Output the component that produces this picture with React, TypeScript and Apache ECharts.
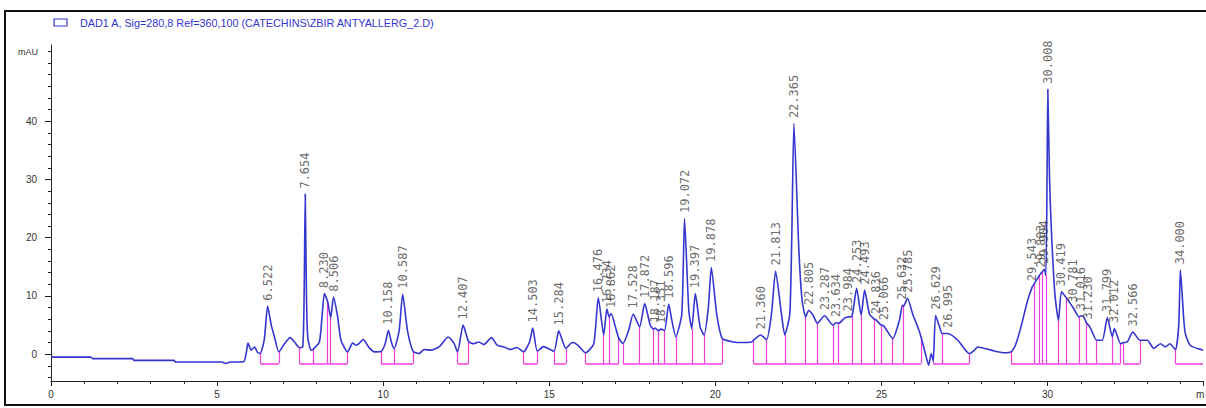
import React, { useEffect, useRef } from "react";
import * as echarts from "echarts";

// Chromatogram trace: [retention time (min), signal (mAU)]
const trace: number[][] = [
  [0, -0.5], [1.2, -0.5], [1.25, -0.75], [2.45, -0.75], [2.5, -1.05], [3.7, -1.05], [3.75, -1.35],
  [5.15, -1.35], [5.25, -1.6], [5.4, -1.35], [5.8, -1.3], [5.88, 0.3], [5.93, 1.9], [6.03, 0.7],
  [6.13, 1.25], [6.22, 0.3], [6.3, 0.15], [6.42, 2.5], [6.522, 8.25], [6.63, 5.0], [6.73, 2.9],
  [6.86, 0.4], [7.03, 1.8], [7.2, 2.85], [7.33, 2.1], [7.48, 1.1], [7.58, 1.3], [7.62, 10],
  [7.654, 27.5], [7.69, 10], [7.73, 2.9], [7.83, 0.7], [7.9, 0.9], [8.08, 2.1], [8.16, 6.5],
  [8.23, 10.4], [8.33, 9.0], [8.42, 6.3], [8.506, 9.8], [8.63, 6.4], [8.73, 2.4], [8.93, 0.4],
  [9.08, 1.9], [9.2, 1.55], [9.4, 2.5], [9.56, 1.25], [9.73, 0.4], [9.93, 0.45], [10.06, 1.8],
  [10.158, 4.1], [10.25, 2.0], [10.33, 0.95], [10.48, 4.0], [10.587, 10.3], [10.73, 4.1],
  [10.9, 0.5], [11.08, 0.1], [11.23, 0.8], [11.43, 0.7], [11.68, 1.25], [11.96, 2.95],
  [12.13, 1.9], [12.24, 0.4], [12.407, 5.0], [12.57, 2.2], [12.73, 1.8], [12.88, 2.1],
  [13.03, 1.65], [13.26, 2.85], [13.43, 1.55], [13.63, 1.25], [13.83, 0.8], [14.03, 1.15],
  [14.22, 0.4], [14.4, 2.0], [14.503, 4.5], [14.64, 0.5], [14.83, 1.3], [15.14, 0.5],
  [15.284, 4.0], [15.5, 1.0], [15.69, 2.0], [15.85, 1.6], [16.09, 0.25], [16.34, 1.8],
  [16.476, 9.7], [16.64, 3.3], [16.734, 7.8], [16.8, 6.4], [16.862, 7.0], [16.99, 4.7],
  [17.09, 2.8], [17.22, 1.85], [17.39, 4.1], [17.528, 6.9], [17.72, 4.7], [17.872, 8.7],
  [18.04, 5.0], [18.14, 4.3], [18.187, 4.5], [18.29, 4.0], [18.351, 4.3], [18.47, 4.1],
  [18.596, 8.6], [18.69, 5.8], [18.81, 3.0], [18.99, 6.9], [19.072, 23.3], [19.2, 7.5],
  [19.29, 4.4], [19.397, 10.4], [19.54, 4.7], [19.66, 3.3], [19.79, 8.1], [19.878, 14.9],
  [20.04, 6.9], [20.21, 2.7], [20.54, 2.1], [20.79, 2.0], [21.09, 2.1], [21.15, 2.4],
  [21.36, 3.3], [21.54, 2.5], [21.69, 6.9], [21.813, 14.3], [21.99, 6.9], [22.09, 3.3],
  [22.24, 6.9], [22.3, 20], [22.365, 39.6], [22.51, 18.4], [22.61, 9.3], [22.72, 6.4],
  [22.805, 7.5], [22.94, 6.7], [23.07, 5.3], [23.287, 6.6], [23.54, 5.0], [23.634, 5.4],
  [23.71, 5.3], [23.89, 6.2], [23.984, 6.4], [24.11, 6.5], [24.253, 11.3], [24.39, 6.7],
  [24.493, 11.0], [24.64, 6.9], [24.79, 6.0], [24.836, 5.9], [24.99, 5.0], [25.066, 4.9],
  [25.34, 2.7], [25.54, 5.8], [25.632, 8.4], [25.67, 8.3], [25.785, 9.6], [25.94, 6.9],
  [26.09, 4.7], [26.19, 3.0], [26.35, -0.5], [26.42, -1.9], [26.5, 0.1], [26.56, -1.2],
  [26.629, 6.7], [26.75, 4.7], [26.83, 3.55], [26.995, 3.55], [27.3, 2.4], [27.65, 0.1],
  [27.8, 0.7], [27.9, 1.25], [28.3, 0.7], [28.7, 0.25], [28.9, 0.4], [29.05, 1.8], [29.2, 4.7],
  [29.4, 9.2], [29.543, 11.6], [29.6, 12.1], [29.75, 13.5], [29.803, 13.9], [29.85, 14.2],
  [29.904, 14.6], [29.95, 13.5], [29.985, 30], [30.008, 45.5], [30.06, 30], [30.12, 20.7],
  [30.22, 10.4], [30.33, 5.8], [30.419, 10.7], [30.55, 9.8], [30.781, 7.9], [30.95, 6.4],
  [31.016, 6.6], [31.08, 6.5], [31.18, 5.3], [31.23, 5.0], [31.3, 4.4], [31.48, 2.4],
  [31.65, 2.4], [31.799, 6.3], [31.95, 3.0], [32.012, 4.4], [32.2, 1.8], [32.28, 2.0],
  [32.4, 2.1], [32.566, 3.8], [32.78, 2.4], [33.0, 2.4], [33.2, 1.0], [33.4, 1.8],
  [33.55, 1.25], [33.68, 1.8], [33.85, 0.8], [33.95, 5], [34.0, 14.5], [34.1, 6],
  [34.15, 3.5], [34.3, 1.5], [34.68, 0.7],
];

// Peak retention-time labels (apex)
const peakLabels: string[] = [
  "6.522", "7.654", "8.230", "8.506", "10.158", "10.587", "12.407", "14.503", "15.284",
  "16.476", "16.734", "16.862", "17.528", "17.872", "18.187", "18.351", "18.596", "19.072",
  "19.397", "19.878", "21.360", "21.813", "22.365", "22.805", "23.287", "23.634", "23.984",
  "24.253", "24.493", "24.836", "25.066", "25.632", "25.785", "26.629", "26.995", "29.543",
  "29.803", "29.904", "30.008", "30.419", "30.781", "31.016", "31.230", "31.799", "32.012",
  "32.566", "34.000",
];

// Integration baseline level (mAU) and segments [start, end] (min)
const baselineLevel: number[] = [-1.6];
const baselineSegments: number[][] = [
  [6.3, 6.86], [7.48, 8.93], [9.93, 10.9], [12.24, 12.57], [14.22, 14.64], [15.14, 15.5],
  [16.09, 17.09], [17.22, 20.21], [21.15, 26.19], [26.56, 27.65], [28.9, 32.2],
  [32.28, 32.78], [33.85, 34.68],
];
// Peak-boundary drop lines (min)
const dropTimes: number[] = [
  6.3, 6.86, 7.48, 7.9, 8.33, 8.42, 8.93, 9.93, 10.33, 10.9, 12.24, 12.57, 14.22, 14.64,
  15.14, 15.5, 16.09, 16.64, 16.8, 17.09, 17.22, 17.72, 18.14, 18.29, 18.47, 18.81, 19.29,
  19.66, 20.21, 21.15, 21.54, 22.09, 22.72, 23.07, 23.54, 23.71, 24.11, 24.39, 24.79, 24.99,
  25.34, 25.67, 26.19, 26.56, 26.83, 27.65, 28.9, 29.6, 29.75, 29.85, 29.95, 30.33, 30.55,
  30.95, 31.18, 31.48, 31.95, 32.2, 32.28, 32.78, 33.85,
];

const xTickLabels: number[] = [0, 5, 10, 15, 20, 25, 30];
const yTickLabels: number[] = [0, 10, 20, 30, 40];
const yMinorTicks: number[] = [-4, -2, 0, 2, 4, 6, 8, 10, 12, 14, 16, 18, 20, 22, 24, 26, 28, 30, 32, 34, 36, 38, 40, 42, 44, 46, 48, 50, 52];

const legendText = "DAD1 A, Sig=280,8 Ref=360,100 (CATECHINS\\ZBIR ANTYALLERG_2.D)";

function valueAt(t: number): number | null {
  for (const p of trace) if (Math.abs(p[0] - t) < 1e-6) return p[1];
  return null;
}

export default function App() {
  const ref = useRef<HTMLDivElement>(null);
  useEffect(() => {
    if (!ref.current) return;
    const chart = echarts.init(ref.current, null, { renderer: "svg" });
    const base = baselineLevel[0];
    const pink = "#f23ee0";
    const pinkLines: any[] = [];
    baselineSegments.forEach((s) =>
      pinkLines.push({ coords: [[s[0], base], [s[1], base]], lineStyle: { color: pink, width: 1.5 } })
    );
    dropTimes.forEach((t) => {
      const v = valueAt(t);
      if (v !== null) pinkLines.push({ coords: [[t, base], [t, v]], lineStyle: { color: pink, width: 1.2 } });
    });
    const peakData = peakLabels
      .map((l) => {
        const t = parseFloat(l);
        const v = valueAt(t);
        return v === null ? null : { name: l, value: [t, v] };
      })
      .filter((d) => d !== null);

    const axisColor = "#222";
    const font = "Liberation Sans, Arial, sans-serif";
    chart.setOption({
      animation: false,
      backgroundColor: "#ffffff",
      grid: { left: 51, right: 0, top: 45, bottom: 27 },
      xAxis: {
        type: "value",
        min: 0,
        max: 34.68,
        interval: 5,
        axisLine: { onZero: false, lineStyle: { color: axisColor, width: 1 } },
        axisTick: { length: 5, lineStyle: { color: axisColor } },
        minorTick: { show: true, splitNumber: 5, length: 3, lineStyle: { color: axisColor } },
        axisLabel: {
          color: "#333",
          fontSize: 10,
          fontFamily: font,
          margin: 8,
          formatter: (v: number) => (xTickLabels.indexOf(v) >= 0 ? String(v) : ""),
        },
        splitLine: { show: false },
      },
      yAxis: [
        {
          type: "value",
          min: -4.6,
          max: 53.1,
          axisLine: { show: true, onZero: false, lineStyle: { color: axisColor, width: 1 } },
          axisTick: { show: true, customValues: yMinorTicks, length: 3, lineStyle: { color: axisColor } },
          axisLabel: { customValues: yTickLabels, color: "#333", fontSize: 10, fontFamily: font, margin: 14 },
          splitLine: { show: false },
        },
        {
          type: "value",
          position: "left",
          offset: 0,
          min: -4.6,
          max: 53.1,
          axisLine: { show: false },
          axisTick: { show: true, customValues: yTickLabels, length: 6, lineStyle: { color: axisColor } },
          axisLabel: { show: false },
          splitLine: { show: false },
        },
      ],
      series: [
        {
          type: "lines",
          coordinateSystem: "cartesian2d",
          polyline: false,
          silent: true,
          z: 1,
          lineStyle: { color: pink, width: 1.2, opacity: 1 },
          data: pinkLines,
        },
        {
          type: "line",
          data: trace,
          showSymbol: false,
          smooth: 0.2,
          z: 2,
          lineStyle: { color: "#3535d0", width: 1.6 },
          silent: true,
        },
        {
          type: "scatter",
          data: peakData,
          symbolSize: 1,
          itemStyle: { color: "rgba(0,0,0,0)" },
          z: 3,
          silent: true,
          label: {
            show: true,
            position: "top",
            distance: 5,
            rotate: 90,
            align: "left",
            verticalAlign: "middle",
            formatter: (p: any) => p.name,
            color: "#444",
            fontSize: 12,
            fontFamily: "DejaVu Sans Mono, monospace",
          },
        },
      ],
      graphic: [
        { type: "rect", shape: { x: 5, y: 11, width: 1215, height: 394 }, style: { fill: "none", stroke: "#111", lineWidth: 2 }, silent: true },
        { type: "rect", shape: { x: 54, y: 19, width: 13, height: 7 }, style: { fill: "none", stroke: "#3535d0", lineWidth: 1.2 }, silent: true },
        { type: "text", x: 80, y: 22.5, style: { text: legendText, fill: "#3535d0", fontSize: 10.8, fontFamily: "Liberation Sans Narrow, Liberation Sans, Arial", verticalAlign: "middle" }, silent: true },
        { type: "text", x: 18, y: 52, style: { text: "mAU", fill: "#333", fontSize: 9, fontFamily: font, verticalAlign: "middle" }, silent: true },
        { type: "text", x: 1196, y: 394, style: { text: "m", fill: "#333", fontSize: 10, fontFamily: font, verticalAlign: "middle" }, silent: true },
      ],
    });
    return () => chart.dispose();
  }, []);
  return (
    <div
      ref={ref}
      style={{ position: "absolute", left: 0, top: 0, width: 1206, height: 408, background: "#fff" }}
    />
  );
}
